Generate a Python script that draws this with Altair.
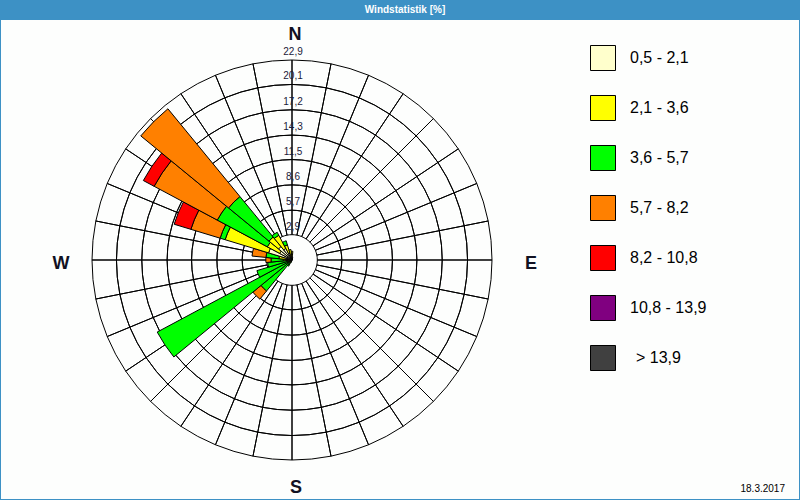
import altair as alt
import pandas as pd

# ---------------- data ----------------
# 32 wind directions (compass degrees, clockwise from north)
directions = [0.0, 11.25, 22.5, 33.75, 45.0, 56.25, 67.5, 78.75,
              90.0, 101.25, 112.5, 123.75, 135.0, 146.25, 157.5, 168.75,
              180.0, 191.25, 202.5, 213.75, 225.0, 236.25, 247.5, 258.75,
              270.0, 281.25, 292.5, 303.75, 315.0, 326.25, 337.5, 348.75]

classes = ["0,5 - 2,1", "2,1 - 3,6", "3,6 - 5,7", "5,7 - 8,2",
           "8,2 - 10,8", "10,8 - 13,9", "> 13,9"]
colors = ["#FFFFCC", "#FFFF00", "#00FF00", "#FF8000",
          "#FF0000", "#800080", "#404040"]

# frequency [%] per direction for each speed class
c1 = [0.5, 0.3, 0, 0, 0, 0, 0, 0, 0, 0, 0, 0, 0, 0, 0, 0,
      0, 0, 0, 0, 0.2, 0.2, 0.2, 0.2, 0.4, 0.6, 2.8, 1.6, 2.0, 1.5, 0.8, 0.5]
c2 = [0.5, 0, 0, 0, 0, 0, 0, 0, 0, 0, 0, 0, 0, 0, 0, 0,
      0, 0, 0, 0, 0.2, 0.3, 0.2, 0.3, 0.6, 0.9, 5.2, 1.6, 1.4, 1.7, 1.0, 0.7]
c3 = [0, 0, 0, 0, 0, 0, 0, 0, 0, 0, 0, 0, 0, 0, 0, 0,
      0, 0, 0.3, 0.8, 4.2, 17.0, 3.8, 2.3, 1.4, 1.5, 0.6, 6.5, 6.0, 0.4, 0.5, 0]
c4 = [0, 0, 0, 0, 0, 0, 0, 0, 0, 0, 0, 0, 0, 0, 0, 0,
      0, 0, 0, 0, 1.2, 0, 0, 0, 0.6, 1.6, 3.5, 8.2, 13.0, 0, 0, 0]
c5 = [0, 0, 0, 0, 0, 0, 0, 0, 0, 0, 0, 0, 0, 0, 0, 0,
      0, 0, 0, 0, 0, 0, 0, 0, 0, 0, 2.0, 1.4, 0, 0, 0, 0]
c6 = [0] * 32
c7 = [0] * 32
series = [c1, c2, c3, c4, c5, c6, c7]

ring_values = [2.9, 5.7, 8.6, 11.5, 14.3, 17.2, 20.1, 22.9]
ring_labels = ["2,9", "5,7", "8,6", "11,5", "14,3", "17,2", "20,1", "22,9"]

# ---------------- tables ----------------
rows = []
for i, d in enumerate(directions):
    cum = 0.0
    for k, s in enumerate(series):
        v = s[i]
        if v > 0:
            rows.append({"dir": d, "cls": classes[k], "r0": cum, "r1": cum + v})
        cum += v
wedge_df = pd.DataFrame(rows)

grid_rows = []
for d in directions:
    for j in range(len(ring_values) - 1):
        grid_rows.append({"dir": d, "r0": ring_values[j], "r1": ring_values[j + 1]})
grid_df = pd.DataFrame(grid_rows)

ring_df = pd.DataFrame({"v": ring_values, "label": ring_labels})
legend_df = pd.DataFrame({"cls": classes})
one = pd.DataFrame({"a": [0]})

SECTOR = 11.25
CX, CY = 292, 260

rscale = alt.Scale(type="linear", domain=[0, 22.9], range=[0, 200], zero=True)
tscale = alt.Scale(type="linear", domain=[0, 360], range=[0, 6.283185307179586])
cscale = alt.Scale(domain=classes, range=colors)

# ---------------- layers ----------------
title_bar = alt.Chart(one).mark_rect(color="#3D91C5").encode(
    x=alt.value(0), x2=alt.value(800), y=alt.value(0), y2=alt.value(20))
title_txt = alt.Chart(one).mark_text(
    text="Windstatistik [%]", font="Liberation Sans", fontSize=10,
    fontWeight="bold", color="white", align="center", baseline="middle"
).encode(x=alt.value(405), y=alt.value(10))
frame = alt.Chart(one).mark_rect(fillOpacity=0, stroke="#3D91C5", strokeWidth=2).encode(
    x=alt.value(0), x2=alt.value(800), y=alt.value(0), y2=alt.value(500))

grid = alt.Chart(grid_df).transform_calculate(
    a0="datum.dir", a1=f"datum.dir + {SECTOR}"
).mark_arc(fillOpacity=0, stroke="black", strokeWidth=1).encode(
    theta=alt.Theta("a0:Q", scale=tscale, stack=None),
    theta2="a1:Q",
    radius=alt.Radius("r1:Q", scale=rscale, stack=None),
    radius2="r0:Q",
    x=alt.value(CX), y=alt.value(CY))

wedges = alt.Chart(wedge_df).transform_calculate(
    a0=f"datum.dir - {SECTOR / 2}", a1=f"datum.dir + {SECTOR / 2}"
).mark_arc(stroke="black", strokeWidth=1).encode(
    theta=alt.Theta("a0:Q", scale=tscale, stack=None),
    theta2="a1:Q",
    radius=alt.Radius("r1:Q", scale=rscale, stack=None),
    radius2="r0:Q",
    fill=alt.Fill("cls:N", scale=cscale, legend=None),
    x=alt.value(CX), y=alt.value(CY))

ring_txt = alt.Chart(ring_df).mark_text(
    font="Liberation Sans", fontSize=10, color="#1a1a3a",
    align="center", baseline="middle", dy=-8
).encode(
    y=alt.Y("v:Q", scale=alt.Scale(domain=[0, 22.9], range=[CY, CY - 200]), axis=None),
    x=alt.value(CX + 1), text="label:N")

compass_df = pd.DataFrame({"t": ["N", "E", "S", "W"],
                           "px": [295, 531, 296, 61],
                           "py": [35, 264, 488, 264]})
compass = alt.Chart(compass_df).mark_text(
    font="Liberation Sans", fontSize=18, fontWeight="bold", color="#111122",
    align="center", baseline="middle"
).encode(
    x=alt.X("px:Q", scale=alt.Scale(domain=[0, 800], range=[0, 800]), axis=None),
    y=alt.Y("py:Q", scale=alt.Scale(domain=[0, 500], range=[0, 500]), axis=None),
    text="t:N")

lscale = alt.Scale(domain=classes, range=[58, 358], padding=0)
leg_sq = alt.Chart(legend_df).mark_square(size=625, stroke="black", strokeWidth=1, opacity=1).encode(
    y=alt.Y("cls:N", scale=lscale, axis=None),
    x=alt.value(603),
    fill=alt.Fill("cls:N", scale=cscale, legend=None))
leg_txt_base = alt.Chart(legend_df).mark_text(
    font="Liberation Sans", fontSize=16, color="black", align="left", baseline="middle")
leg_txt = leg_txt_base.transform_filter(
    alt.datum.cls != classes[-1]
).encode(y=alt.Y("cls:N", scale=lscale, axis=None), x=alt.value(630), text="cls:N")
leg_txt_last = leg_txt_base.transform_filter(
    alt.datum.cls == classes[-1]
).encode(y=alt.Y("cls:N", scale=lscale, axis=None), x=alt.value(636), text="cls:N")

date_txt = alt.Chart(one).mark_text(
    text="18.3.2017", font="Liberation Sans", fontSize=10, color="black",
    align="right", baseline="middle"
).encode(x=alt.value(785), y=alt.value(489))

chart = alt.layer(
    grid, wedges, ring_txt, compass, leg_sq, leg_txt, leg_txt_last,
    title_bar, title_txt, frame, date_txt
).resolve_scale(
    y="independent", x="independent"
).properties(
    width=800, height=500,
    autosize=alt.AutoSizeParams(type="none"),
    padding=0,
    background="#FDFEFD"
).configure_view(stroke=None)

chart.save("out.html", embed_options={"renderer": "svg", "actions": False})
